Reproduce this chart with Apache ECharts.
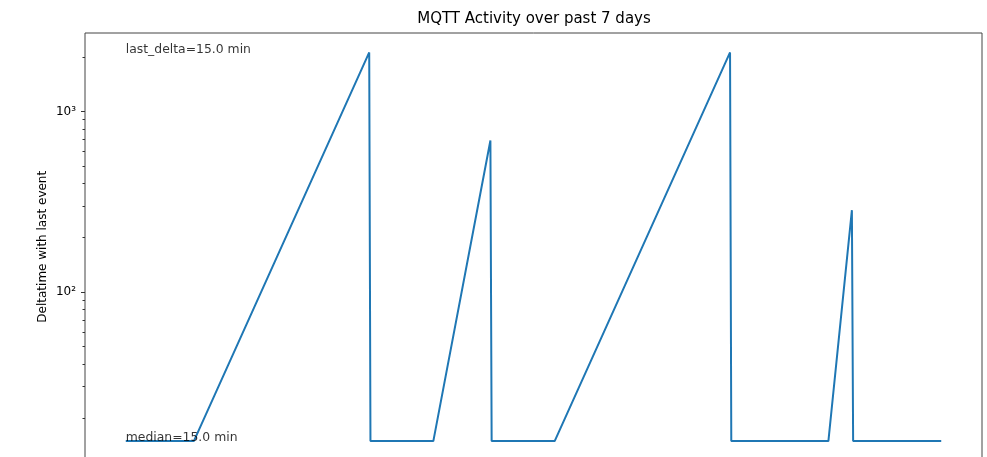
<!DOCTYPE html>
<html>
<head>
<meta charset="utf-8">
<title>MQTT Activity</title>
<script src="https://cdn.jsdelivr.net/npm/echarts@6/dist/echarts.min.js"></script>
<style>
    html, body { margin: 0; padding: 0; background: #fff; }
    #chart { width: 987px; height: 457px; }
</style>
</head>
<body>
<div id="chart"></div>
<script>
    // minutes since the first event in the window
    var eventMinutes = [0, 823, 2943, 2958, 3718, 4408, 4423, 5185, 7305, 7320, 8494, 8778, 8793, 9858]
    // delta with the previous event, minutes
    var deltaMinutes = [15, 15, 2120, 15, 15, 690, 15, 15, 2120, 15, 15, 284, 15, 15]

    var majorTicks = [100, 1000]
    var minorTicks = [20, 30, 40, 50, 60, 70, 80, 90, 200, 300, 400, 500, 600, 700, 800, 900, 2000]

    var notes = ['last_delta=15.0 min', 'median=15.0 min']
    var noteAt = [[0, 2120], [0, 15]]

    var font = 'DejaVu Sans'
    var sup = { 1: '\u00b9', 2: '\u00b2', 3: '\u00b3', 4: '\u2074' }

    // matplotlib style 5% margins
    var xLo = Math.min.apply(null, eventMinutes), xHi = Math.max.apply(null, eventMinutes)
    var yLo = Math.log10(Math.min.apply(null, deltaMinutes)), yHi = Math.log10(Math.max.apply(null, deltaMinutes))
    var xMin = xLo - 0.05 * (xHi - xLo), xMax = xHi + 0.05 * (xHi - xLo)
    var yMin = Math.pow(10, yLo - 0.05 * (yHi - yLo)), yMax = Math.pow(10, yHi + 0.05 * (yHi - yLo))

    var points = []
    for (var i = 0; i < eventMinutes.length; i++) points.push([eventMinutes[i], deltaMinutes[i]])

    function tickAxis(values, len) {
        return {
            type: 'log', min: yMin, max: yMax, position: 'left', offset: 0,
            axisLine: { show: false }, splitLine: { show: false },
            axisTick: { length: len, customValues: values, lineStyle: { color: '#333' } },
            axisLabel: { show: false }
        }
    }

    var myChart = echarts.init(document.getElementById('chart'))
    var option = {
        animation: false,
        title: {
            text: 'MQTT Activity over past 7 days',
            left: 534,
            textAlign: 'center',
            top: 12,
            padding: 0,
            textStyle: { fontFamily: font, fontSize: 15, fontWeight: 'normal', color: '#000' }
        },
        // plot runs a few px past the bottom of the window, like the source image
        grid: {
            left: 85, right: 5, top: 33, height: 427.5,
            outerBoundsMode: 'none', containLabel: false,
            show: true, borderColor: '#444', borderWidth: 1
        },
        xAxis: {
            type: 'value', min: xMin, max: xMax,
            axisLine: { show: false }, axisTick: { show: false },
            axisLabel: { show: false }, splitLine: { show: false }
        },
        yAxis: [
            {
                type: 'log', min: yMin, max: yMax, position: 'left', offset: 0,
                axisLine: { show: false }, splitLine: { show: false },
                axisTick: { show: false },
                axisLabel: {
                    customValues: majorTicks, margin: 9,
                    fontFamily: font, fontSize: 12, color: '#000',
                    formatter: function (v) { return '10' + sup[Math.round(Math.log10(v))] }
                },
                name: 'Deltatime with last event',
                nameLocation: 'middle', nameGap: 36, nameMoveOverlap: false,
                nameTextStyle: { fontFamily: font, fontSize: 12, color: '#000' }
            },
            tickAxis(majorTicks, 4),
            tickAxis(minorTicks, 2.5)
        ],
        series: [
            {
                type: 'line',
                data: points,
                showSymbol: false,
                lineStyle: { color: '#1f77b4', width: 2 },
                z: 2
            },
            {
                type: 'scatter',
                data: noteAt,
                symbolSize: 0,
                silent: true,
                label: {
                    show: true, position: 'right', distance: 0,
                    align: 'left', verticalAlign: 'bottom', offset: [0, 3],
                    fontFamily: font, fontSize: 12.4, color: '#000',
                    formatter: function (p) { return notes[p.dataIndex] }
                },
                z: 3
            }
        ]
    }
    myChart.setOption(option)
</script>
</body>
</html>
